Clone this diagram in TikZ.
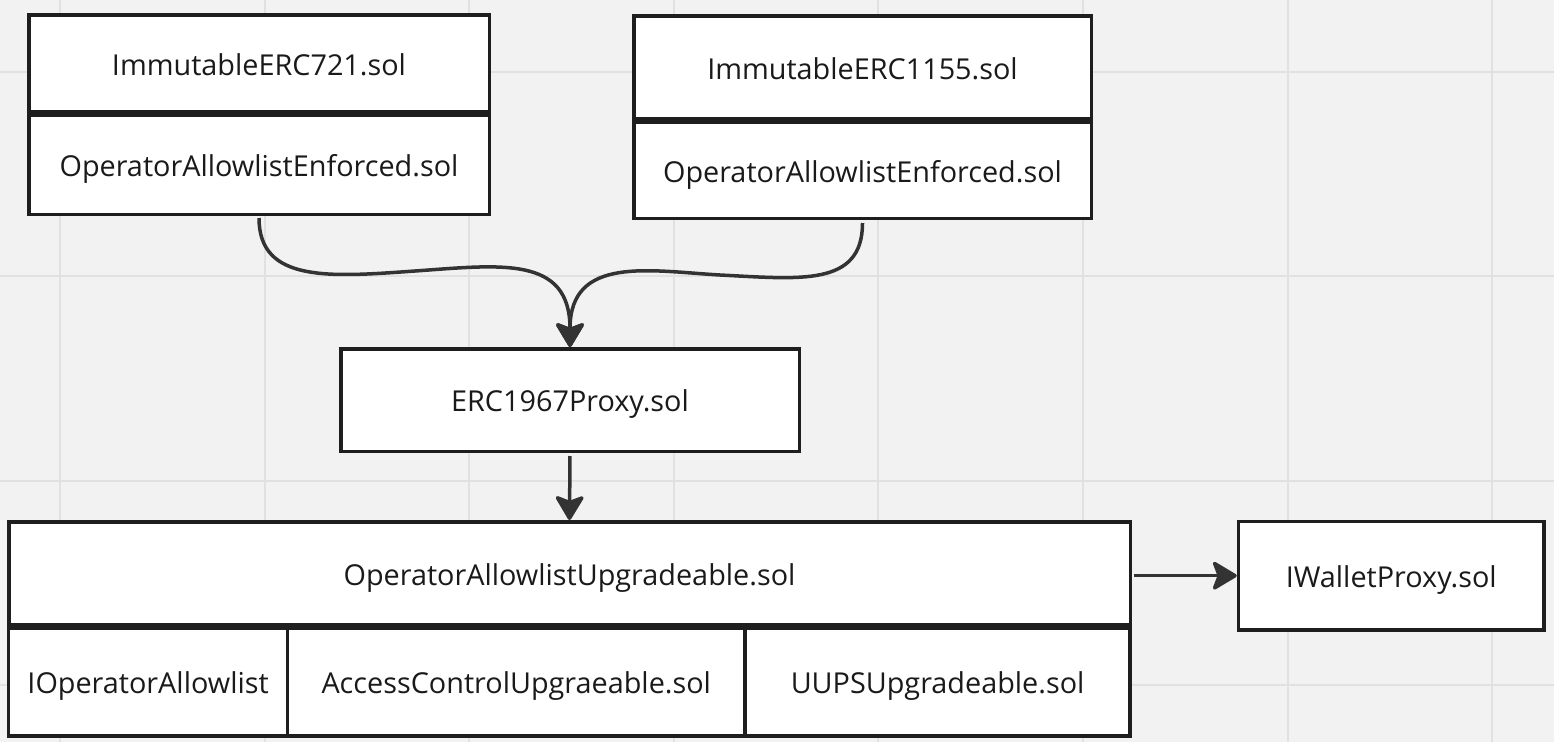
\documentclass[tikz,border=0pt]{standalone}
\usepackage{fontspec}
\setmainfont{Open Sans}
\usetikzlibrary{arrows.meta}
\definecolor{bgcol}{HTML}{F2F2F2}
\definecolor{gridcol}{HTML}{E1E1E1}
\definecolor{bordercol}{HTML}{1E1E1E}
\definecolor{linkcol}{HTML}{333333}
\definecolor{textcol}{HTML}{1A1A1A}
\begin{document}
\begin{tikzpicture}[x=1pt,y=-1pt,
  box/.style={draw=bordercol, fill=white, line width=3.5pt, rectangle, inner sep=0pt,
    text=textcol, font=\fontsize{28.8}{34}\selectfont, text height=23.5pt, text depth=0pt},
  link/.style={draw=linkcol, line width=3.5pt,
    -{Stealth[length=27pt,width=32pt,inset=6pt,round]}},
  gridline/.style={draw=gridcol, line width=2pt}]
\useasboundingbox (0,0) rectangle (1554,742);
\fill[bgcol] (0,0) rectangle (1554,742);
\foreach \gx in {60,264.6,469.2,673.8,878.4,1083,1287.6,1492.2}
  \draw[gridline] (\gx,0) -- (\gx,742);
\foreach \gy in {72,276.3,480.6,684.9}
  \draw[gridline] (0,\gy) -- (1554,\gy);

% top-left stacked box
\node[box, minimum width=460.5pt, minimum height=97pt] (A1) at (259,63.25) {ImmutableERC721.sol};
\node[box, minimum width=460.5pt, minimum height=99pt] (A2) at (259,164.75) {OperatorAllowlistEnforced.sol};
% top-right stacked box
\node[box, minimum width=457.5pt, minimum height=103pt] (B1) at (862.5,67.25) {ImmutableERC1155.sol};
\node[box, minimum width=457.5pt, minimum height=96pt] (B2) at (862.5,170.25) {OperatorAllowlistEnforced.sol};
% proxy
\node[box, minimum width=458.5pt, minimum height=102.5pt] (C) at (570,400) {ERC1967Proxy.sol};
% big box
\node[box, minimum width=1121.5pt, minimum height=103pt] (D1) at (569.5,573.25) {OperatorAllowlistUpgradeable.sol};
\node[box, minimum width=278.75pt, minimum height=107.5pt] (E1) at (148.1,682) {IOperatorAllowlist};
\node[box, minimum width=457.5pt, minimum height=107.5pt] (E2) at (516.25,682) {AccessControlUpgraeable.sol};
\node[box, minimum width=385.25pt, minimum height=107.5pt] (E3) at (937.6,682) {UUPSUpgradeable.sol};
% wallet proxy
\node[box, minimum width=305.5pt, minimum height=108.5pt] (F) at (1391.25,575.7) {IWalletProxy.sol};

% connectors
\coordinate (lm) at (415,271);
\coordinate (rm) at (720,275);
\draw[link, shorten <=2pt] (A2.south) .. controls +(0,67) and +(-85,6) .. (lm)
  .. controls +(85,-6) and +(0,-92) .. (C.north);
\draw[link, shorten <=3pt] (B2.south) .. controls +(0,67) and +(80,4) .. (rm)
  .. controls +(-70,-4) and +(0,-92) .. (C.north);
\draw[link, shorten <=3pt] (C.south) -- (D1.north);
\draw[link, shorten <=2pt] (D1.east |- F.west) -- (F.west);
\end{tikzpicture}
\end{document}
